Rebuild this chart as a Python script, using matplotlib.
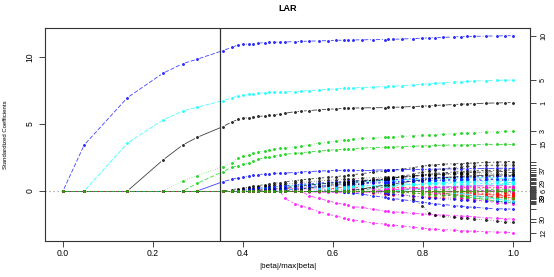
import numpy as np
import matplotlib
matplotlib.use("Agg")
import matplotlib.pyplot as plt
from matplotlib.collections import LineCollection

plt.rcParams['font.family'] = ['Liberation Sans', 'DejaVu Sans']

# ---------------- data ----------------
steps = [0.000, 0.047, 0.143, 0.222, 0.266, 0.298, 0.355, 0.375, 0.390, 0.401,
         0.414, 0.423, 0.433, 0.449, 0.458, 0.469, 0.482, 0.493, 0.516, 0.530,
         0.547, 0.570, 0.590, 0.607, 0.624, 0.634, 0.645, 0.664, 0.690, 0.716,
         0.723, 0.734, 0.753, 0.778, 0.799, 0.814, 0.827, 0.845, 0.869, 0.884,
         0.898, 0.914, 0.940, 0.964, 0.983, 1.000]

# each variable: values after the breakpoint at which it enters (zero before)
v10 = [3.43, 6.96, 8.78, 9.5, 9.83, 10.47, 10.72, 10.9, 10.94, 10.97, 11.0, 11.03, 11.07, 11.08, 11.1,
       11.11, 11.12, 11.14, 11.16, 11.18, 11.2, 11.22, 11.24, 11.25, 11.26, 11.27, 11.28, 11.29, 11.3,
       11.31, 11.32, 11.34, 11.37, 11.4, 11.42, 11.44, 11.46, 11.5, 11.52, 11.53, 11.54, 11.56, 11.57,
       11.58, 11.59]
v5 = [3.56, 5.3, 5.97, 6.25, 6.74, 6.95, 7.1, 7.16, 7.2, 7.24, 7.28, 7.34, 7.36, 7.37, 7.39, 7.4, 7.42,
      7.45, 7.49, 7.54, 7.58, 7.62, 7.65, 7.67, 7.69, 7.72, 7.76, 7.79, 7.8, 7.82, 7.86, 7.91, 7.96, 8.0,
      8.03, 8.07, 8.12, 8.15, 8.18, 8.2, 8.23, 8.25, 8.27, 8.28]
v1 = [2.31, 3.43, 4.0, 4.8, 5.15, 5.35, 5.42, 5.48, 5.52, 5.56, 5.6, 5.64, 5.68, 5.76, 5.8, 5.92, 5.96,
      6.0, 6.06, 6.1, 6.13, 6.16, 6.18, 6.19, 6.2, 6.21, 6.22, 6.23, 6.24, 6.27, 6.3, 6.33, 6.36, 6.38,
      6.41, 6.45, 6.48, 6.5, 6.52, 6.55, 6.57, 6.58, 6.6]
v3 = [0.77, 1.14, 1.81, 2.11, 2.49, 2.58, 2.7, 2.8, 2.9, 3.0, 3.06, 3.12, 3.18, 3.24, 3.31, 3.38, 3.46,
      3.56, 3.65, 3.72, 3.78, 3.82, 3.86, 3.92, 3.97, 4.0, 4.01, 4.03, 4.07, 4.12, 4.16, 4.19, 4.21, 4.23,
      4.27, 4.3, 4.33, 4.36, 4.4, 4.43, 4.46, 4.48]
v15 = [0.57, 1.44, 1.77, 1.89, 2.0, 2.12, 2.22, 2.35, 2.5, 2.56, 2.62, 2.68, 2.74, 2.81, 2.86, 2.92, 2.98,
       3.04, 3.08, 3.12, 3.14, 3.16, 3.2, 3.24, 3.26, 3.27, 3.28, 3.31, 3.34, 3.37, 3.39, 3.4, 3.42, 3.43,
       3.44, 3.45, 3.46, 3.47, 3.47, 3.48, 3.48]
v16 = [0.69, 0.87, 1.0, 1.07, 1.13, 1.17, 1.22, 1.27, 1.3, 1.32, 1.33, 1.34, 1.38, 1.42, 1.45, 1.49, 1.51,
       1.53, 1.55, 1.56, 1.56, 1.56, 1.56, 1.57, 1.57, 1.58, 1.59, 1.6, 1.61, 1.62, 1.63, 1.64, 1.65, 1.66,
       1.67, 1.68, 1.68, 1.69, 1.7, 1.7]
v7 = [.1, .18, .24, .3, .35, .4, .48, .52, .57, .63, .68, .78, .83, .9, .96, 1.02, 1.08, 1.14, 1.18, 1.22,
      1.3, 1.4, 1.5, 1.53, 1.56, 1.62, 1.75, 1.85, 1.92, 1.96, 2.0, 2.03, 2.05, 2.07, 2.09, 2.13, 2.16, 2.18, 2.2]
v13 = [.08, .14, .2, .25, .3, .36, .4, .44, .48, .52, .6, .64, .7, .76, .8, .84, .88, .9, .92, .96,
       1.0, 1.05, 1.06, 1.08, 1.1, 1.14, 1.17, 1.19, 1.2, 1.22, 1.24, 1.25, 1.26, 1.27, 1.28, 1.29, 1.3, 1.3]
v22 = [.06, .12, .16, .2, .26, .3, .33, .36, .4, .46, .5, .54, .6, .64, .67, .7, .72, .74, .77, .8,
       .84, .85, .86, .88, .92, .95, .97, .99, 1.01, 1.03, 1.04, 1.05, 1.06, 1.08, 1.09, 1.1, 1.1]
v11 = [.05, .1, .14, .2, .24, .28, .32, .35, .4, .43, .47, .52, .56, .59, .62, .64, .66, .7, .74, .78,
       .79, .8, .83, .86, .89, .9, .92, .93, .95, .96, .97, .98, .99, 1.0, 1.0, 1.0]
v2 = [.03, .06, .1, .12, .14, .16, .17, .2, .21, .22, .23, .24, .24, .25, .25, .25, .26, .26, .27, .27,
      .27, .27, .28, .28, .28, .28, .29, .29, .29, .29, .3, .3, .3, .3, .3]
v25 = [.04, .1, .14, .18, .22, .26, .34, .38, .44, .52, .58, .63, .68, .7, .73, .78, .85, .92, .94, .97,
       1.02, 1.1, 1.16, 1.2, 1.23, 1.27, 1.32, 1.35, 1.37, 1.39, 1.42, 1.44, 1.45, 1.45]
v34 = [.05, .08, .12, .16, .19, .26, .3, .34, .4, .44, .48, .52, .54, .56, .6, .64, .68, .69, .7, .72,
       .75, .78, .8, .81, .83, .85, .86, .87, .88, .89, .9, .9, .9]
v18 = [.02, .04, .06, .08, .1, .11, .12, .13, .14, .15, .15, .16, .16, .17, .17, .18, .18, .18, .19, .19,
       .2, .2, .2, .21, .21, .21, .21, .22, .22, .22, .22, .22]
v29 = [.03, .06, .09, .14, .17, .2, .24, .27, .3, .32, .34, .35, .38, .41, .44, .45, .46, .47, .49, .5,
       .51, .52, .53, .54, .55, .55, .56, .56, .57, .57, .57]
v4 = [.04, .08, .15, .2, .25, .31, .36, .4, .44, .46, .48, .52, .57, .62, .63, .65, .68, .72, .75, .77,
      .78, .8, .82, .83, .83, .84, .84, .85, .85, .85]
v12 = [-0.55, -0.97, -1.1, -1.3, -1.54, -1.74, -1.87, -2.0, -2.08, -2.15, -2.25, -2.4, -2.47, -2.5, -2.54,
       -2.6, -2.7, -2.78, -2.82, -2.85, -2.88, -2.92, -2.95, -2.98, -3.0, -3.04, -3.06, -3.08, -3.1]
v37 = [.1, .16, .24, .34, .42, .49, .55, .59, .63, .7, .8, .9, .93, .97, 1.04, 1.13, 1.21, 1.27, 1.31, 1.36,
       1.42, 1.45, 1.48, 1.5, 1.53, 1.55, 1.56, 1.57]
v6 = [-.03, -.06, -.08, -.1, -.1, -.1, -.1, -.09, -.08, -.07, -.06, -.06, -.05, -.05, -.04, -.03, -.03, -.02,
      -.02, -.01, -.01, -.01, 0, 0, .01, .01, .01]
v30 = [-0.37, -0.55, -0.75, -0.87, -1.0, -1.04, -1.17, -1.22, -1.37, -1.5, -1.52, -1.55, -1.6, -1.67, -1.71,
       -1.74, -1.77, -1.8, -1.83, -1.87, -1.9, -1.93, -1.99, -2.04, -2.07, -2.1]
v23 = [.06, .12, .17, .22, .25, .28, .33, .4, .46, .48, .5, .54, .59, .63, .66, .68, .7, .73, .75, .76,
       .77, .78, .79, .8, .8]
v19 = [.1, .2, .3, .36, .42, .54, .7, .86, .9, .98, 1.1, 1.26, 1.4, 1.5, 1.58, 1.66, 1.75, 1.8, 1.84, 1.87,
       1.91, 1.93, 1.94, 1.95]
v9 = [.02, .04, .05, .06, .08, .09, .1, .1, .11, .11, .12, .12, .13, .13, .13, .14, .14, .14, .14, .15,
      .15, .15, .15]
v40 = [-.06, -.1, -.15, -.24, -.36, -.48, -.51, -.56, -.64, -.75, -.84, -.9, -.95, -1.01, -1.09, -1.14,
       -1.18, -1.22, -1.28, -1.32, -1.34, -1.35]
v17 = [.04, .08, .15, .24, .32, .34, .37, .42, .48, .53, .56, .58, .61, .64, .65, .66, .67, .68, .69, .7, .7]
v31 = [.05, .15, .3, .44, .48, .53, .62, .74, .84, .9, .95, 1.0, 1.06, 1.09, 1.12, 1.14, 1.17, 1.19, 1.2, 1.2]
v8 = [-.06, -.14, -.22, -.24, -.27, -.31, -.37, -.42, -.45, -.48, -.5, -.53, -.55, -.56, -.57, -.58, -.59,
      -.6, -.6]
v28 = [-.08, -.17, -.2, -.24, -.3, -.38, -.45, -.5, -.54, -.58, -.63, -.66, -.69, -.72, -.75, -.78, -.79, -.8]
v36 = [.05, .07, .09, .13, .18, .22, .25, .27, .3, .33, .35, .36, .37, .38, .39, .4, .4]
v39 = [-.02, -.05, -.1, -.16, -.21, -.25, -.28, -.32, -.37, -.4, -.42, -.44, -.47, -.49, -.5, -.5]
v14 = [-.03, -.08, -.14, -.19, -.22, -.25, -.28, -.32, -.35, -.37, -.39, -.42, -.44, -.45, -.45]
v35 = [.05, .12, .18, .22, .25, .29, .34, .37, .4, .42, .45, .48, .49, .5]
v43 = [-.6, -1.1, -1.65, -1.8, -1.9, -1.95, -2.0, -2.05, -2.1, -2.16, -2.25, -2.3, -2.33]
v20 = [-.06, -.1, -.14, -.19, -.25, -.29, -.33, -.37, -.42, -.46, -.48, -.5]
v24 = [-.08, -.16, -.26, -.4, -.48, -.56, -.64, -.76, -.86, -.92, -.95]
v21 = [-.06, -.15, -.28, -.36, -.44, -.52, -.64, -.76, -.84, -.88]
v26 = [-.04, -.1, -.14, -.18, -.22, -.27, -.31, -.34, -.35]
v41 = [-.1, -.18, -.26, -.35, -.48, -.6, -.7, -.75]
v32 = [-.04, -.08, -.12, -.19, -.25, -.28, -.3]
v42 = [.02, .03, .02, 0, -.03, -.05]
v27 = [.02, .04, .06, .07, .08]
v38 = [-.07, -.13, -.18, -.2]
v33 = [-.04, -.08, -.1]
v44 = [-.1, -.15]
v45 = [.05]

# variable number -> (breakpoint index where it enters, values after)
entry = {10: (0, v10), 5: (1, v5), 1: (2, v1), 3: (3, v3), 15: (4, v15), 16: (5, v16),
         7: (6, v7), 13: (7, v13), 22: (8, v22), 11: (9, v11), 2: (10, v2), 25: (11, v25),
         34: (12, v34), 18: (13, v18), 29: (14, v29), 4: (15, v4), 12: (16, v12), 37: (17, v37),
         6: (18, v6), 30: (19, v30), 23: (20, v23), 19: (21, v19), 9: (22, v9), 40: (23, v40),
         17: (24, v17), 31: (25, v31), 8: (26, v8), 28: (27, v28), 36: (28, v36), 39: (29, v39),
         14: (30, v14), 35: (31, v35), 43: (32, v43), 20: (33, v20), 24: (34, v24), 21: (35, v21),
         26: (36, v26), 41: (37, v41), 32: (38, v32), 42: (39, v42), 27: (40, v27), 38: (41, v38),
         33: (42, v33), 44: (43, v44), 45: (44, v45)}

right_labels = [10, 5, 1, 3, 15, 37, 29, 6, 39, 30, 12]
cv_line = 0.35

# ---------------- styling ----------------
palette = ['#000000', '#FF0000', '#00CD00', '#0000FF', '#00FFFF', '#FF00FF']
u = 0.72
ltys = ['-', (0, (4 * u, 4 * u)), (0, (1 * u, 3 * u)), (0, (1 * u, 3 * u, 4 * u, 3 * u)),
        (0, (7 * u, 3 * u))]

W, H = 554, 277
fig = plt.figure(figsize=(W / 100, H / 100), dpi=100)
ax = fig.add_axes([45 / W, (H - 241) / H, 485 / W, 213 / H])
ax.set_xlim(-0.04, 1.038)
ax.set_ylim(-3.73, 12.16)

s = np.array(steps)
n = len(steps)
trans = ax.transData
inv = trans.inverted()
gap = 2.4

finals = {}
for num in sorted(entry):
    k, vals = entry[num]
    full = [0.0] * (k + 1) + list(vals)
    full = (full + [full[-1]] * n)[:n]
    y = np.array(full)
    finals[num] = y[-1]
    col = palette[(num - 1) % 6]
    ls = ltys[(num - 1) % 5]
    pts = trans.transform(np.column_stack([s, y]))
    segs = []
    for a, b in zip(pts[:-1], pts[1:]):
        d = b - a
        L = np.hypot(d[0], d[1])
        if L > 2 * gap + 0.6:
            e = d / L
            segs.append(inv.transform(np.array([a + e * gap, b - e * gap])))
    if segs:
        ax.add_collection(LineCollection(segs, colors=col, linewidths=0.6, linestyles=ls, alpha=0.75))
    ax.plot(s, y, ls='none', marker=(6, 2, 0), ms=2.0, mew=0.5, color=col, alpha=0.8)

ax.axhline(0, color='#9a9a9a', lw=0.9, ls=(0, (1, 2.2)), zorder=0.5)
ax.axvline(cv_line, color='#333333', lw=0.9)

for sp in ax.spines.values():
    sp.set_color('#333333')
    sp.set_linewidth(0.8)

ax.set_xticks([0.0, 0.2, 0.4, 0.6, 0.8, 1.0])
ax.set_xticklabels(['0.0', '0.2', '0.4', '0.6', '0.8', '1.0'])
ax.set_yticks([0, 5, 10])
ax.set_yticklabels(['0', '5', '10'], rotation=90, va='center')
ax.tick_params(axis='x', length=4.3, width=0.7, color='#444444', labelsize=6.2, pad=1.5)
ax.tick_params(axis='y', length=4.3, width=0.7, color='#444444', labelsize=6.2, pad=3)

ax2 = ax.twinx()
ax2.set_ylim(ax.get_ylim())
order = sorted(finals)
ax2.set_yticks([finals[k] for k in order])
ax2.set_yticklabels([str(k) if k in right_labels else '' for k in order],
                    rotation=90, va='center')
ax2.tick_params(axis='y', length=4.3, width=0.7, color='#444444', labelsize=5.2, pad=3)
for sp in ax2.spines.values():
    sp.set_visible(False)

fig.text(288 / W, 1 - 8.5 / H, 'LAR', ha='center', va='center', fontsize=6.5, fontweight='bold')
fig.text(288 / W, 1 - 266 / H, '|beta|/max|beta|', ha='center', va='center', fontsize=5.8)
fig.text(6 / W, 1 - 134.5 / H, 'Standardized Coefficients', ha='center', va='center',
         fontsize=4.3, rotation=90)

fig.savefig('out.png', dpi=100, facecolor='white')
